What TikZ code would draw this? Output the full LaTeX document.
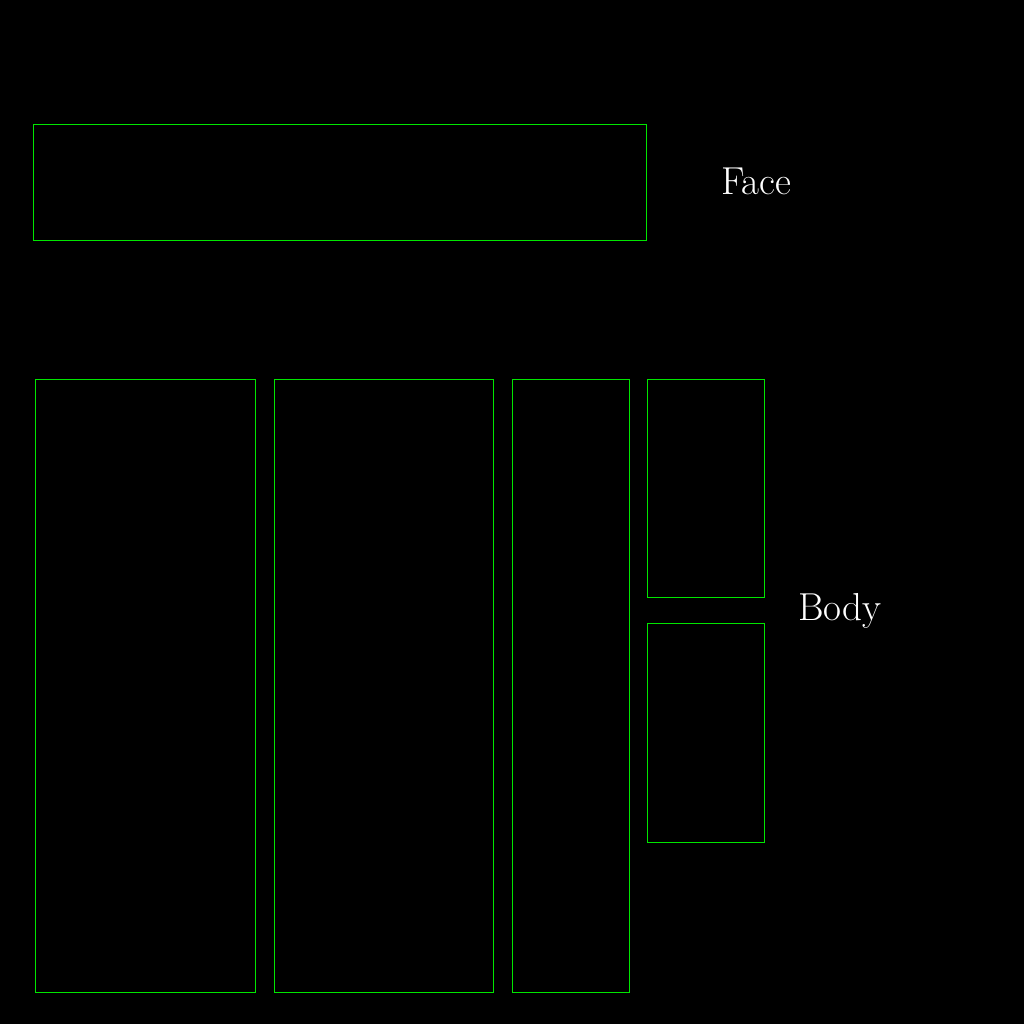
\documentclass[tikz,border=0pt]{standalone}
\usepackage{fontspec}
\begin{document}
\begin{tikzpicture}[x=1pt,y=-1pt,
  part/.style={draw={rgb,255:red,0;green,230;blue,0}, line width=1pt},
  lbl/.style={text=white, font=\fontsize{39}{44}\selectfont, inner sep=0pt}]
\fill[black] (0,0) rectangle (1024,1024);
\useasboundingbox (0,0) rectangle (1024,1024);
\draw[part] (33,125) rectangle (646,240);
\draw[part] (35,379) rectangle (255,992);
\draw[part] (274,379) rectangle (493,992);
\draw[part] (512,379) rectangle (629,992);
\draw[part] (647,379) rectangle (764,597);
\draw[part] (647,623) rectangle (764,842);
\node[lbl] (faceLabel) at (756,181) {Face};
\node[lbl] (bodyLabel) at (840,611) {Body};
\end{tikzpicture}
\end{document}
